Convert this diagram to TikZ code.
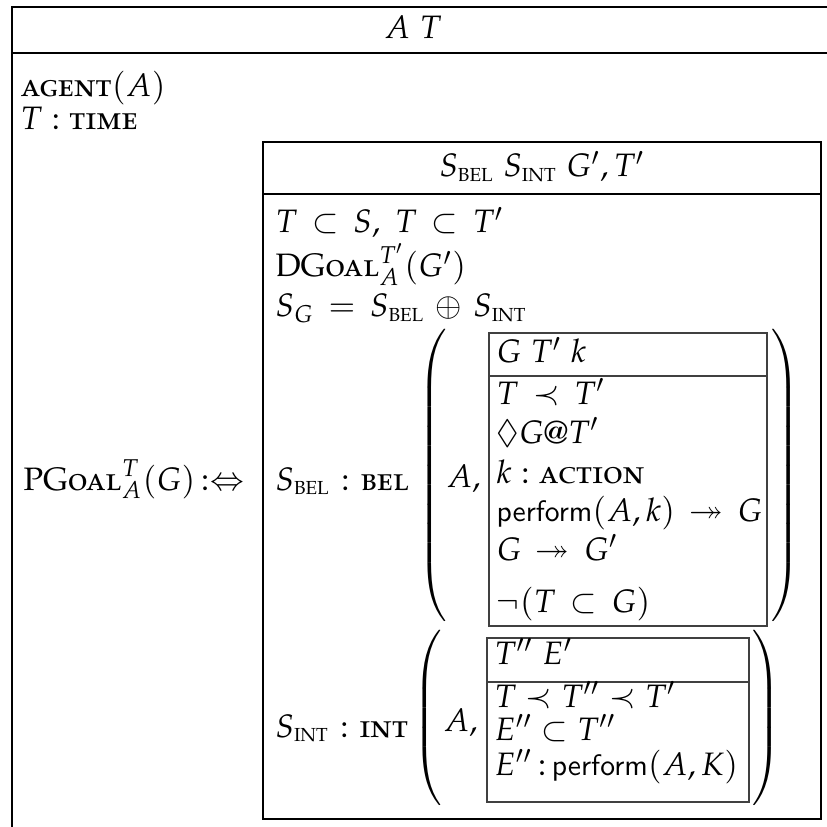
\documentclass[tikz,border=0pt,12pt]{standalone}
\usepackage[T1]{fontenc}
\usepackage[sc]{mathpazo}
\usepackage{amsmath,amssymb}
\newcommand{\scs}[1]{\text{\textsc{#1}}}
\newcommand{\subc}[1]{\text{\fontsize{7}{8}\selectfont\upshape #1}}
\newcommand{\col}[1][5mu]{\mskip#1{:}\mskip#1}
\newcommand{\pf}{\mbox{\fontsize{11.2}{13}\selectfont$\mathsf{perform}$}}
\begin{document}
\begin{tikzpicture}[x=0.37pt,y=-0.37pt,
  txt/.style={inner sep=0pt,anchor=base west},
  ctr/.style={inner sep=0pt,anchor=base},
  paren/.style={inner sep=0pt,anchor=center},
  wide/.style={execute at begin node={\thickmuskip=8mu plus 2mu\medmuskip=6mu plus 2mu}},
  rule/.style={line width=0.5pt,draw=black},
  innerrule/.style={line width=0.45pt,draw=black!75}]
\useasboundingbox (0,0) rectangle (827,827);
% outer box (cropped)
\draw[rule] (12,827) -- (12,7) -- (827,7);
\draw[rule] (12,53) -- (827,53);
\node[ctr] (hd) at (413,39) {$A$ $T$};
\node[txt] (agent) at (20,97) {\textsc{agent}$(A)$};
\node[txt] (time) at (20,130) {$T \col \scs{time}$};
\node[txt] (pg) at (23,490) {$\scs{PGoal}^{T}_{A}(G)\mkern3mu{:}{\Leftrightarrow}$};
% middle box
\draw[rule] (263,142) rectangle (821,819);
\draw[rule] (263,194) -- (821,194);
\node[ctr] (hd2) at (542,177) {$S_{\subc{BEL}}\ S_{\subc{INT}}\ G', T'$};
\node[txt,wide] (c1) at (275,233) {$T \subset S,\ T \subset T'$};
\node[txt,wide] (c2) at (275,277) {$\scs{DGoal}^{T'}_{A}(G')$};
\node[txt,wide] (c3) at (275,317) {$S_G = S_{\subc{BEL}} \oplus S_{\subc{INT}}$};
% BEL
\node[txt] (sbel) at (275,490) {$S_{\subc{BEL}} \col[6mu] \scs{bel}$};
\node[paren] (lp1) at (434,478) {$\left(\vrule height 53pt depth 53pt width 0pt\right.$};
\node[paren] (rp1) at (784,478) {$\left.\vrule height 53pt depth 53pt width 0pt\right)$};
\node[txt] (a1) at (446,487) {$A,$};
\draw[innerrule] (489,333) rectangle (767,626);
\draw[innerrule] (489,376) -- (767,376);
\node[txt] (b1h) at (496,363) {$G\ T'\ k$};
\node[txt,wide] (b1a) at (496,404) {$T \prec T'$};
\node[txt] (b1b) at (496,443) {$\lozenge G@T'$};
\node[txt] (b1c) at (496,483) {$k \col \scs{action}$};
\node[txt,wide] (b1d) at (496,521) {$\pf(A,k) \twoheadrightarrow G$};
\node[txt,wide] (b1e) at (496,560) {$G \twoheadrightarrow G'$};
\node[txt,wide] (b1f) at (496,612) {$\neg(T \subset G)$};
% INT
\node[txt] (sint) at (275,737) {$S_{\subc{INT}} \col[6mu] \scs{int}$};
\node[paren] (lp2) at (429,719) {$\left(\vrule height 30pt depth 30pt width 0pt\right.$};
\node[paren] (rp2) at (765,719) {$\left.\vrule height 30pt depth 30pt width 0pt\right)$};
\node[txt] (a2) at (443,731) {$A,$};
\draw[innerrule] (487,638) rectangle (749,802);
\draw[innerrule] (487,682) -- (749,682);
\node[txt] (b2h) at (494,664) {$T''\ E'$};
\node[txt] (b2a) at (494,707) {$T \prec T'' \prec T'$};
\node[txt] (b2b) at (494,740) {$E'' \subset T''$};
\node[txt] (b2c) at (494,775) {$E'' \col[3mu] \pf(A,K)$};
\end{tikzpicture}
\end{document}
